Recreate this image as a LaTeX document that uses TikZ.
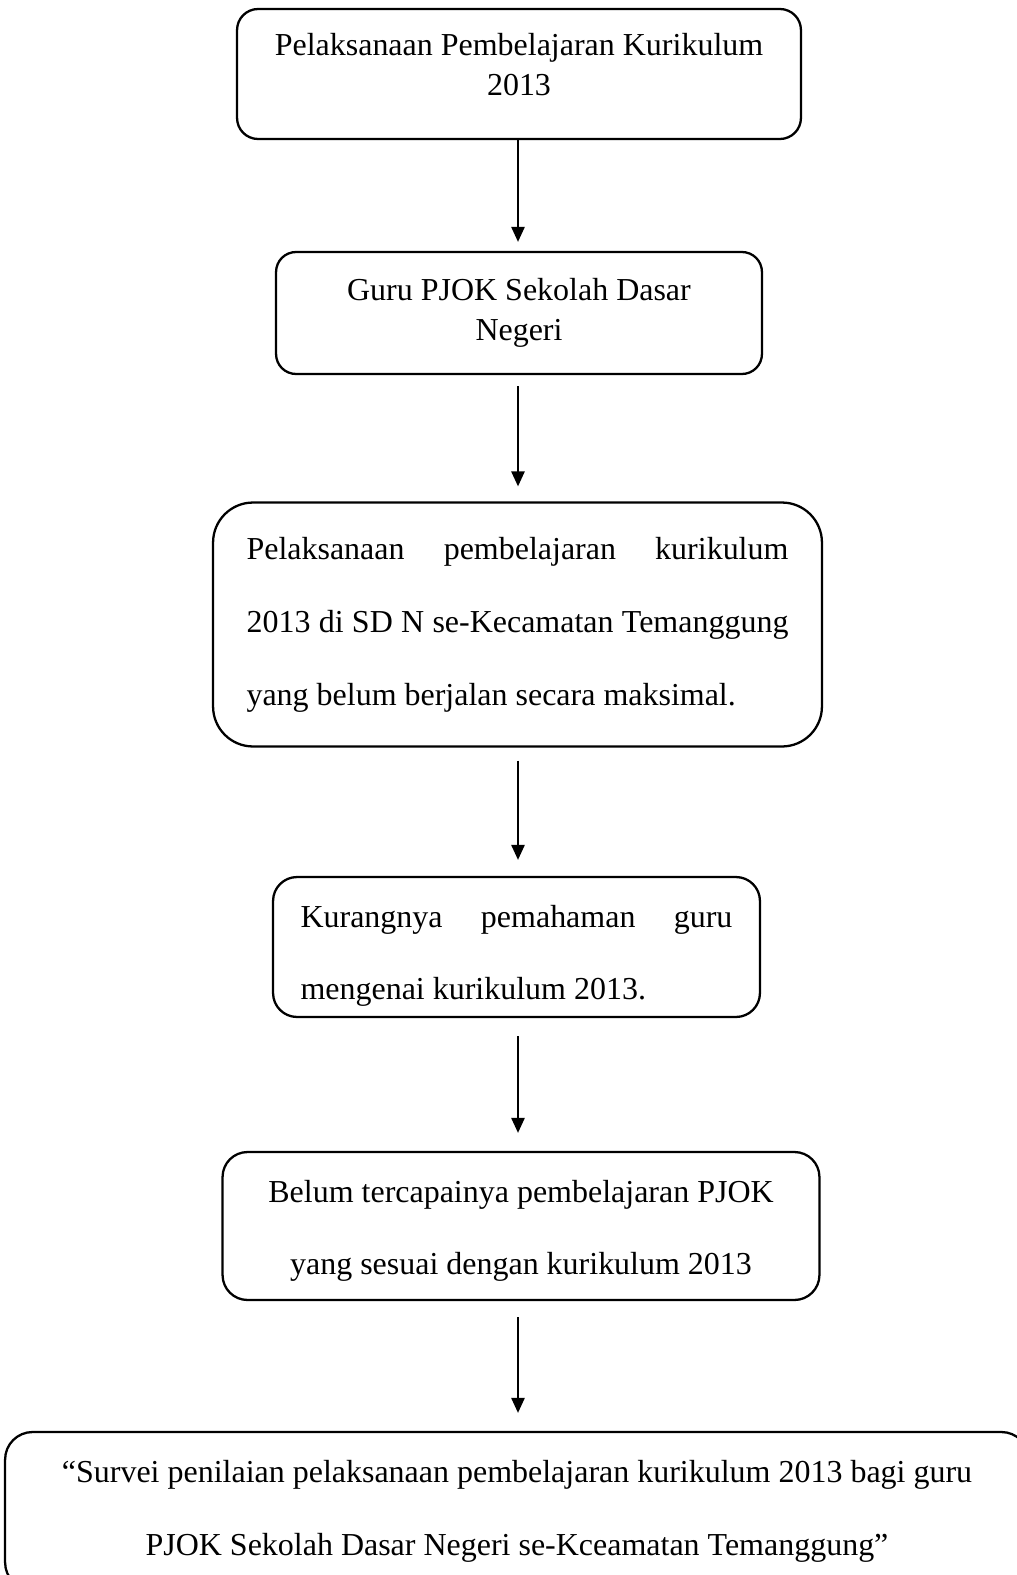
\documentclass[tikz,border=0pt]{standalone}
\usepackage{fontspec}
\setmainfont{Liberation Serif}
\usetikzlibrary{arrows.meta}

\begin{document}
\begin{tikzpicture}[x=0.02cm, y=-0.02cm,
  box/.style={draw, line width=1.3pt, rounded corners=#1, inner sep=0pt},
  box/.default=0.45cm,
  flow/.style={line width=1.1pt, -{Triangle[width=7.5pt,length=8.5pt]}},
  tight/.style={font=\fontsize{18.2}{23}\selectfont, align=flush center},
  wide/.style={font=\fontsize{18.2}{41.5}\selectfont}]

\useasboundingbox (0,0) rectangle (1017,1575);
\clip (0,0) rectangle (1017,1575);

\coordinate (axis) at (518,0);

% boxes
\node [box=0.42cm, tight, text width=11cm, text height=0pt, text depth=0.76cm,
       minimum width=11.28cm, minimum height=2.6cm] (kurikulum) at (519,74)
  {Pelaksanaan Pembelajaran Kurikulum\\2013};

\node [box=0.4cm, tight, minimum width=9.72cm, minimum height=2.44cm] (guru) at (519,313)
  {Guru PJOK Sekolah Dasar\\Negeri};

\node [box=0.8cm, wide, align=flush left, text width=10.84cm, minimum width=12.18cm, minimum height=4.88cm] (kondisi) at (517.5,624.5)
  {Pelaksanaan\hfill pembelajaran\hfill kurikulum\\
   \makebox[\linewidth][s]{2013 di SD N se-Kecamatan Temanggung}\\
   yang belum berjalan secara maksimal.};

\node [box=0.48cm, wide, align=flush left, text width=8.64cm, text height=0pt, text depth=0.8cm,
       minimum width=9.74cm, minimum height=2.8cm] (pemahaman) at (516.5,947)
  {Kurangnya\hfill pemahaman\hfill guru\\mengenai kurikulum 2013.};

\node [box=0.5cm, wide, align=flush center, text width=11cm, text height=0pt, text depth=0.96cm,
       minimum width=11.94cm, minimum height=2.96cm] (capaian) at (521,1226)
  {Belum tercapainya pembelajaran PJOK\\yang sesuai dengan kurikulum 2013};

\node [box=0.55cm, wide, align=center, minimum width=20.48cm, minimum height=3.16cm] (survei) at (517,1511)
  {“Survei penilaian pelaksanaan pembelajaran kurikulum 2013 bagi guru\\PJOK Sekolah Dasar Negeri se-Kceamatan Temanggung”};

% arrows
\draw [flow, shorten >=0.18cm] (kurikulum.south -| axis) -- (guru.north -| axis);
\draw [flow, shorten <=0.22cm, shorten >=0.30cm] (guru.south -| axis) -- (kondisi.north -| axis);
\draw [flow, shorten <=0.26cm, shorten >=0.32cm] (kondisi.south -| axis) -- (pemahaman.north -| axis);
\draw [flow, shorten <=0.36cm, shorten >=0.36cm] (pemahaman.south -| axis) -- (capaian.north -| axis);
\draw [flow, shorten <=0.32cm, shorten >=0.36cm] (capaian.south -| axis) -- (survei.north -| axis);
\end{tikzpicture}
\end{document}
